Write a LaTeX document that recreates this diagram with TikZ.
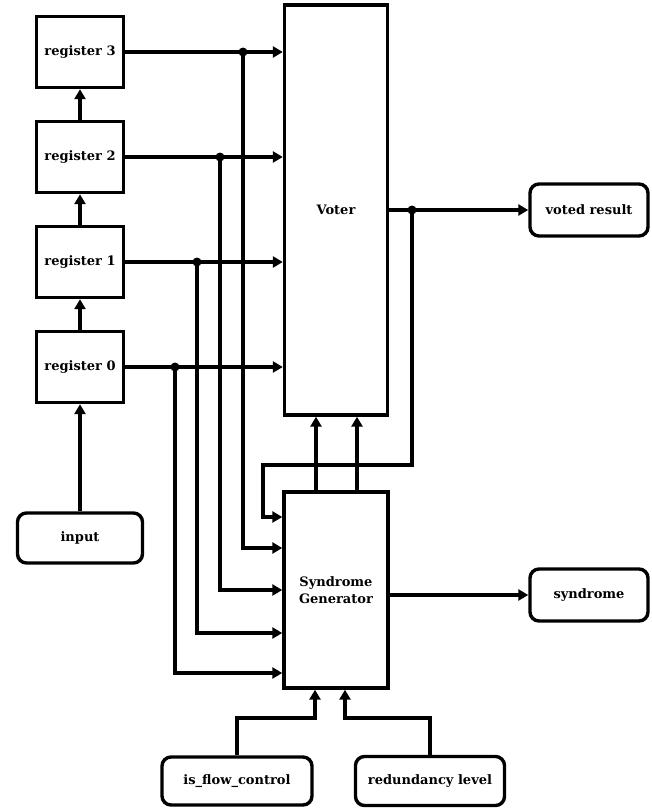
\documentclass[tikz,border=0pt]{standalone}
\usepackage{fontspec}
\setmainfont{DejaVu Serif}
\usetikzlibrary{arrows.meta}
\begin{document}
\begin{tikzpicture}[x=1pt,y=-1pt,
  line width=3.4pt,
  font=\bfseries\fontsize{13}{17}\selectfont,
  blk/.style={draw, rectangle, inner sep=0pt, align=center},
  reg/.style={blk, minimum width=87pt, minimum height=71pt},
  term/.style={draw, rectangle, rounded corners=9pt, inner sep=0pt},
  sig/.style={-{Triangle[length=10pt,width=11pt]}},
  dot/.style={circle, fill, inner sep=0pt, minimum size=9pt},
]
\useasboundingbox (0,0) rectangle (651,809);

% shift register chain
\node[reg] (r3) at (80,52)  {register 3};
\node[reg] (r2) at (80,157) {register 2};
\node[reg] (r1) at (80,262) {register 1};
\node[reg] (r0) at (80,367) {register 0};
\node[term, minimum width=125pt, minimum height=50pt] (input) at (80,538) {input};

% processing blocks
\node[blk, minimum width=103pt, minimum height=410pt] (voter) at (336,210) {Voter};
\node[blk, minimum width=104pt, minimum height=196pt] (sg) at (336,590) {Syndrome\\Generator};

% terminals
\node[term, minimum width=118pt, minimum height=52pt] (voted) at (589,210) {voted result};
\node[term, minimum width=118pt, minimum height=52pt] (syn) at (589,595) {syndrome};
\node[term, minimum width=150pt, minimum height=48pt] (flow) at (237,781) {is\_flow\_control};
\node[term, minimum width=149pt, minimum height=49pt] (red) at (430,781) {redundancy level};

% tap columns and generator input rows
\coordinate (x3) at (243,0);
\coordinate (x2) at (220,0);
\coordinate (x1) at (197,0);
\coordinate (x0) at (175,0);
\coordinate (xv) at (412,0);
\coordinate (s4) at (0,517);
\coordinate (s3) at (0,548);
\coordinate (s2) at (0,590);
\coordinate (s1) at (0,633);
\coordinate (s0) at (0,673);
\coordinate (fb) at (263,465);
\coordinate (a1) at (316,0);
\coordinate (a2) at (357,0);
\coordinate (fl) at (315,718);
\coordinate (rl) at (345,718);

% chain connections
\draw[sig] (input.north) -- (r0.south);
\draw[sig] (r0.north) -- (r1.south);
\draw[sig] (r1.north) -- (r2.south);
\draw[sig] (r2.north) -- (r3.south);

% register outputs to voter
\foreach \r in {r3,r2,r1,r0}
  \draw[sig] (\r.east) -- (voter.west |- \r.east);

% taps to syndrome generator
\foreach \r/\x/\s in {r3/x3/s3, r2/x2/s2, r1/x1/s1, r0/x0/s0} {
  \node[dot] (t\r) at (\r.east -| \x) {};
  \draw[sig] (t\r.center) -- (t\r.center |- \s) -- (sg.west |- \s);
}

% voter output and feedback
\draw[sig] (voter.east |- voted.west) -- (voted.west);
\node[dot] (tv) at (voted.west -| xv) {};
\draw[sig] (tv.center) |- (fb) |- (sg.west |- s4);

% generator to voter
\draw[sig] (sg.north -| a1) -- (voter.south -| a1);
\draw[sig] (sg.north -| a2) -- (voter.south -| a2);

% generator output
\draw[sig] (sg.east |- syn.west) -- (syn.west);

% control inputs
\draw[sig] (flow.north) |- (fl) -- (sg.south -| fl);
\draw[sig] (red.north) |- (rl) -- (sg.south -| rl);
\end{tikzpicture}
\end{document}
